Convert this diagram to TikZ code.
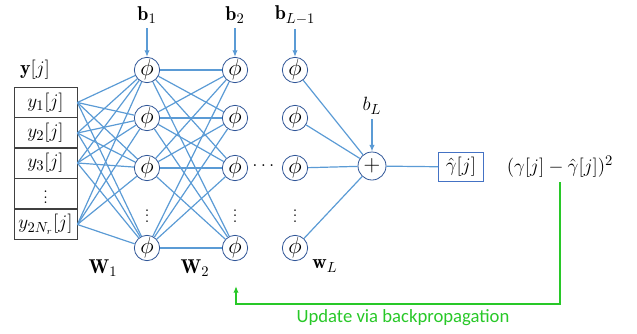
\documentclass[tikz,border=0pt]{standalone}
\usepackage{amsmath}
\usepackage{fontspec}
\newfontfamily\labelfont{Carlito}
\usetikzlibrary{arrows.meta,positioning}
\definecolor{cLink}{RGB}{91,155,213}
\definecolor{cNode}{RGB}{47,85,151}
\definecolor{cBox}{RGB}{68,114,196}
\definecolor{cBack}{RGB}{40,200,40}

\begin{document}
\begin{tikzpicture}[x=0.75pt, y=-0.75pt, font=\fontsize{15}{18}\selectfont,
  neuron/.style={circle, draw=cNode, line width=0.6pt, inner sep=-1.5pt, minimum size=19pt, fill=white, font=\fontsize{18}{20}\selectfont},
  cell/.style={rectangle, draw=black!75, line width=0.6pt, inner sep=0pt, minimum width=47.25pt, minimum height=23pt},
  link/.style={cLink, line width=0.9pt},
  feed/.style={cLink, line width=0.9pt, -{Latex[length=5pt,width=4pt]}},
  back/.style={cBack, line width=1.3pt, -{Latex[length=5pt,width=4pt]}}]
\useasboundingbox (0,0) rectangle (637,333);
% input vector
\node (ylbl) at (35,70) {$\mathbf{y}[j]$};
\foreach \y/\i/\t in {102.5/1/{y_1[j]}, 133/2/{y_2[j]}, 163/3/{y_3[j]},
                      193.5/4/{\vdots}, 224.5/5/{y_{2N_r}[j]}} {
  \node[cell] (y\i) at (45.5,\y) {$\t$};
}
% hidden layers
\foreach \x/\l in {147/1, 235/2, 295/3} {
  \foreach \y/\k in {70/1, 118/2, 168/3, 248/4}
    \node[neuron] (h\l\k) at (\x,\y) {$\phi$};
  \node (d\l) at (\x,212) {$\vdots$};
}
\node (hdots) at (265,166) {$\dots$};
% biases
\foreach \l/\t in {1/{\mathbf{b}_1}, 2/{\mathbf{b}_2}, 3/{\mathbf{b}_{L-1}}} {
  \path (h\l1) ++(0,-55) node (bb\l) {$\t$};
  \draw[feed] (bb\l) -- (h\l1);
}
% output
\node[neuron, minimum size=21pt] (sum) at (372,166) {$+$};
\node (bL) at (372,106) {$b_L$};
\draw[feed] (bL) -- (sum);
\node[rectangle, draw=cBox, line width=0.7pt, inner sep=2pt, minimum width=33.75pt, minimum height=21.75pt] (yhat) at (461,167) {$\hat{\gamma}[j]$};
\node (loss) at (560,167) {$(\gamma[j]-\hat{\gamma}[j])^2$};
% weights
\foreach \i in {1,2,3,5}
  \foreach \k in {1,...,4}
    \draw[link] (y\i.east) -- (h1\k);
\foreach \i in {1,...,4}
  \foreach \k in {1,...,4}
    \draw[link] (h1\i) -- (h2\k);
\foreach \k in {1,...,4}
  \draw[link] (h3\k) -- (sum);
\draw[link] (sum) -- (yhat);
\node (W1) at (103,268) {$\mathbf{W}_1$};
\node (W2) at (195,268) {$\mathbf{W}_2$};
\node (wL) at (325,266) {$\mathbf{w}_L$};
% backpropagation
\coordinate (turn) at (236,304);
\coordinate (upd) at (236,286);
\draw[back] (loss.south) |- (turn) -- (upd);
\node[text=cBack, font=\labelfont\fontsize{14}{16}\selectfont] (updlbl) at (403,318) {Update via backpropagation};
\end{tikzpicture}
\end{document}
